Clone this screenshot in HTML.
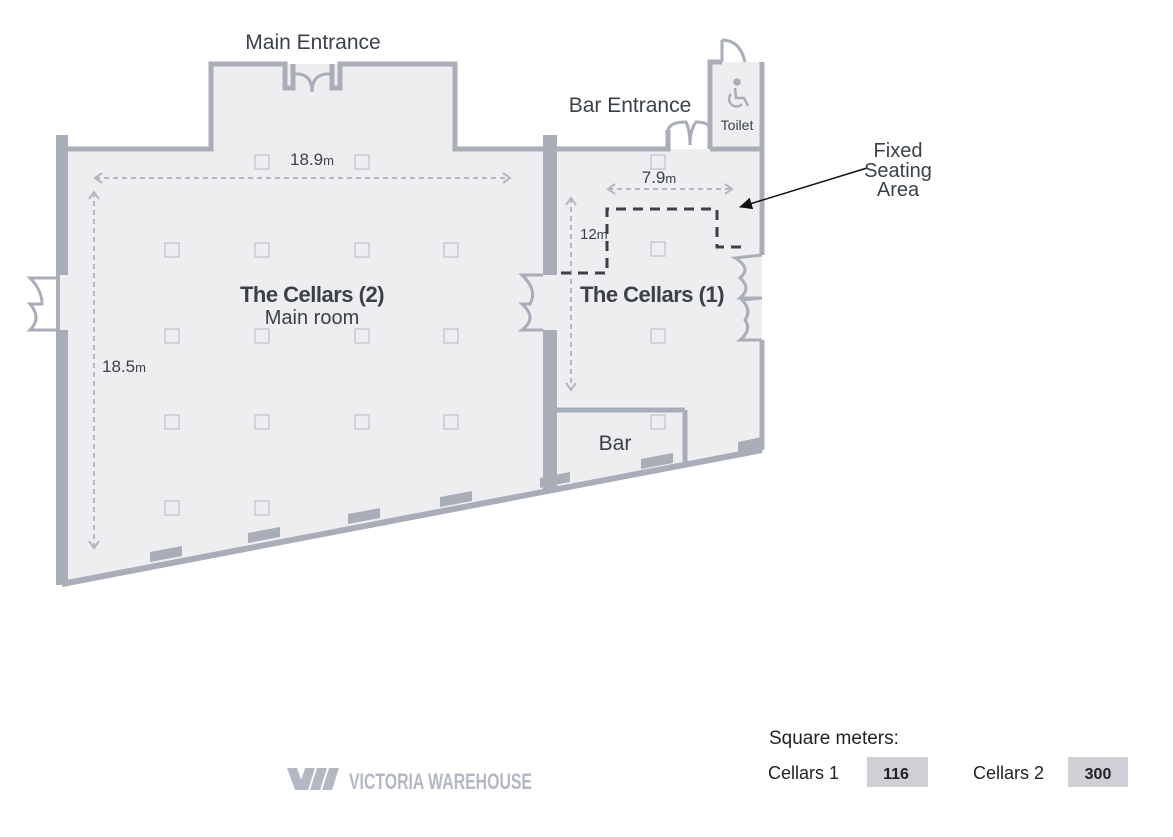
<!DOCTYPE html>
<html><head><meta charset="utf-8"><style>
html,body{margin:0;padding:0;background:#fff;}
body{width:1173px;height:832px;overflow:hidden;font-family:"Liberation Sans",sans-serif;}
</style></head><body>
<svg width="1173" height="832" viewBox="0 0 1173 832" xmlns="http://www.w3.org/2000/svg">
<defs>
<marker id="ag" markerWidth="14" markerHeight="14" refX="9" refY="7" orient="auto-start-reverse" markerUnits="userSpaceOnUse"><path d="M2,2 L9,7 L2,12" fill="none" stroke="#b4b7c0" stroke-width="2"/></marker>
<marker id="ak" markerWidth="14" markerHeight="12" refX="12" refY="6" orient="auto" markerUnits="userSpaceOnUse"><path d="M0,0 L13,6 L0,12 z" fill="#111"/></marker>
</defs>
<polygon points="62,149 211,149 211,64 455,64 455,149 710,149 710,62 762,62 762,450 62,583" fill="#eeeef1"/>
<g fill="none" stroke="#a9adb8" stroke-width="5" stroke-linejoin="miter">
<polyline points="62,149 211,149 211,64 285,64 285,88 293,88 293,64"/>
<polyline points="332,64 332,88 340,88 340,64 455,64 455,149 548,149"/>
<polyline points="548,149 668,149 668,130"/>
<polyline points="710,149 762,149"/>
<polyline points="710,149 710,62 722,62"/>
<polyline points="762,62 762,255"/>
<polyline points="762,340 762,450"/>
<line x1="557" y1="410" x2="685" y2="410"/>
<line x1="685" y1="410" x2="685" y2="465"/>
<line x1="62" y1="584" x2="762" y2="450" stroke-width="6"/>
</g>
<g fill="none" stroke="#a9adb8" stroke-width="3">
<path d="M293,74 Q312,72 312,92 Q312,72 332,74"/>
<path d="M668,130 Q670,122 686,122 Q690,130 690,145 Q690,130 696,122 Q710,122 710,130"/>
<path d="M722,40 Q740,40 745,62 M722,40 L722,62"/>
<path d="M62,278 L30,278 Q42,290 42,304 L30,304 Q42,318 30,330 L62,330"/>
<path d="M550,275 L522,275 Q538,290 530,304 L522,304 Q538,318 522,330 L550,330"/>
<path d="M762,255 L735,258 Q752,268 740,278 Q752,288 740,298 L762,298"/>
<path d="M762,298 L742,300 Q752,310 745,320 Q752,330 740,340 L762,340"/>
</g>
<g fill="#a9adb8">
<rect x="56" y="135" width="12" height="450"/>
<rect x="543" y="135" width="14" height="355"/>
<rect x="543" y="275" width="14" height="55" fill="#eeeef1"/>
<rect x="60" y="275" width="8" height="55" fill="#eeeef1"/>
<polygon points="150,552 182,546 182,556 150,562"/>
<polygon points="248,533 280,527 280,537 248,543"/>
<polygon points="348,514 380,508 380,518 348,524"/>
<polygon points="440,497 472,491 472,501 440,507"/>
<polygon points="540,478 570,472 570,482 540,488"/>
<polygon points="641,459 673,453 673,463 641,469"/>
<polygon points="738,442 762,437 762,449 738,454"/>
</g>
<g fill="none" stroke="#c8cad1" stroke-width="1.5">
<rect x="255" y="155" width="14" height="14"/><rect x="355" y="155" width="14" height="14"/>
<rect x="165" y="243" width="14" height="14"/><rect x="255" y="243" width="14" height="14"/><rect x="355" y="243" width="14" height="14"/><rect x="444" y="243" width="14" height="14"/>
<rect x="165" y="329" width="14" height="14"/><rect x="255" y="329" width="14" height="14"/><rect x="355" y="329" width="14" height="14"/><rect x="444" y="329" width="14" height="14"/>
<rect x="165" y="415" width="14" height="14"/><rect x="255" y="415" width="14" height="14"/><rect x="355" y="415" width="14" height="14"/><rect x="444" y="415" width="14" height="14"/>
<rect x="165" y="501" width="14" height="14"/><rect x="255" y="501" width="14" height="14"/>
<rect x="651" y="155" width="14" height="14"/><rect x="651" y="242" width="14" height="14"/><rect x="651" y="329" width="14" height="14"/><rect x="651" y="415" width="14" height="14"/>
</g>
<g stroke="#b4b7c0" stroke-width="2" stroke-dasharray="5,4" fill="none">
<line x1="95" y1="178" x2="510" y2="178" marker-start="url(#ag)" marker-end="url(#ag)"/>
<line x1="94" y1="192" x2="94" y2="548" marker-start="url(#ag)" marker-end="url(#ag)"/>
<line x1="608" y1="189" x2="732" y2="189" marker-start="url(#ag)" marker-end="url(#ag)"/>
<line x1="571" y1="198" x2="571" y2="390" marker-start="url(#ag)" marker-end="url(#ag)"/>
</g>
<polyline points="561,273 607,273 607,209 717,209 717,247 741,247" fill="none" stroke="#3a4149" stroke-width="3" stroke-dasharray="10,7"/>
<line x1="867" y1="168" x2="740" y2="207" stroke="#111" stroke-width="1.5" marker-end="url(#ak)"/>
<g fill="none" stroke="#a9adb8" stroke-width="2.5">
<circle cx="737" cy="82" r="2.5" fill="#a9adb8"/>
<path d="M735,88 L736,98 L744,98 L748,106"/>
<path d="M731,94 A7,7 0 1 0 742,104"/>
</g>
<g font-family="'Liberation Sans',sans-serif" fill="#3a4149">
<text x="313" y="49" font-size="21" text-anchor="middle">Main Entrance</text>
<text x="630" y="112" font-size="21" text-anchor="middle">Bar Entrance</text>
<text x="737" y="130" font-size="14" text-anchor="middle">Toilet</text>
<text x="312" y="165" font-size="17" text-anchor="middle">18.9<tspan font-size="13">m</tspan></text>
<text x="659" y="183" font-size="17" text-anchor="middle">7.9<tspan font-size="13">m</tspan></text>
<text x="580" y="239" font-size="15">12<tspan font-size="13">m</tspan></text>
<text x="102" y="372" font-size="17">18.5<tspan font-size="13">m</tspan></text>
<text x="312" y="302" font-size="22" font-weight="bold" text-anchor="middle" letter-spacing="-0.5">The Cellars (2)</text>
<text x="312" y="324" font-size="20" text-anchor="middle">Main room</text>
<text x="652" y="302" font-size="22" font-weight="bold" text-anchor="middle" letter-spacing="-0.5">The Cellars (1)</text>
<text x="615" y="450" font-size="21" text-anchor="middle">Bar</text>
<text x="898" y="157" font-size="20" text-anchor="middle">Fixed</text>
<text x="898" y="177" font-size="20" text-anchor="middle">Seating</text>
<text x="898" y="196" font-size="20" text-anchor="middle">Area</text>
<text x="769" y="744" font-size="19" fill="#222">Square meters:</text>
<text x="768" y="779" font-size="18" fill="#222">Cellars  1</text>
<rect x="867" y="757" width="61" height="30" fill="#cfd0d6"/>
<text x="896" y="779" font-size="16" font-weight="bold" text-anchor="middle" fill="#222">116</text>
<text x="973" y="779" font-size="18" fill="#222">Cellars 2</text>
<rect x="1068" y="757" width="60" height="30" fill="#cfd0d6"/>
<text x="1098" y="779" font-size="16" font-weight="bold" text-anchor="middle" fill="#222">300</text>
</g>
<g fill="#b4b8c2">
<polygon points="287,768 297,768 305,790 295,790"/>
<polygon points="305,768 315,768 308,790 298,790"/>
<polygon points="317,768 327,768 320,790 310,790"/>
<polygon points="329,768 339,768 332,790 322,790"/>
<text x="349" y="789" font-family="'Liberation Sans',sans-serif" font-size="22" font-weight="bold" textLength="183" lengthAdjust="spacingAndGlyphs">VICTORIA WAREHOUSE</text>
</g>
</svg>
</body></html>
